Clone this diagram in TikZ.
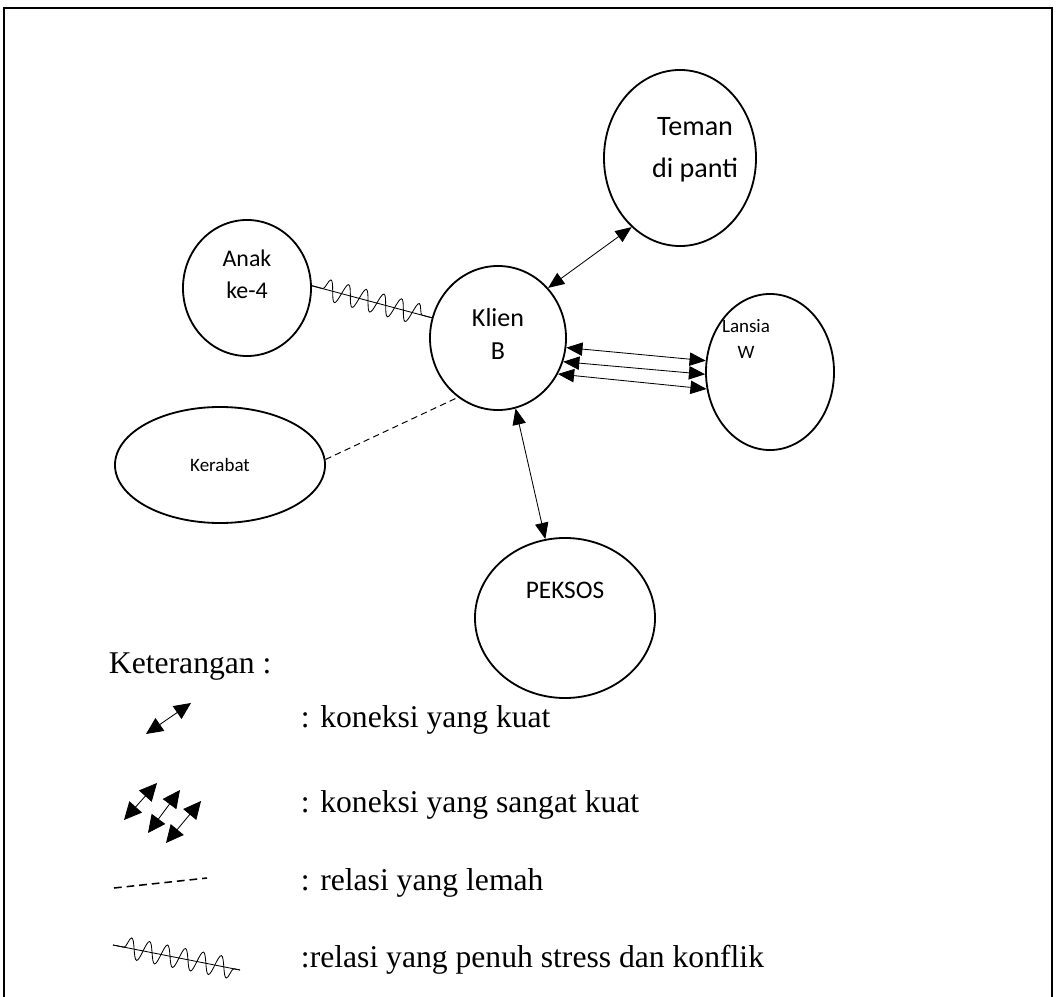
\documentclass[tikz,border=0pt]{standalone}
\usepackage{fontspec}
\setmainfont{Liberation Serif}
\newfontfamily\calibri{Carlito}
\usetikzlibrary{shapes.geometric,arrows.meta,decorations.pathmorphing}

\begin{document}
\begin{tikzpicture}[
  x=0.025cm, y=-0.025cm,
  person/.style={draw, ellipse, line width=1.3pt, inner sep=0pt},
  pname/.style 2 args={align=center, font=\calibri\fontsize{#1}{#2}\selectfont},
  strong/.style={line width=0.6pt, {Triangle[length=11.5pt,width=9.5pt]}-{Triangle[length=11.5pt,width=9.5pt]}},
  weak/.style={line width=0.7pt, dash pattern=on 4.5pt off 3pt},
  stress/.style={line width=0.6pt, postaction={draw, decorate,
    decoration={snake, amplitude=7.5pt, segment length=13pt, pre length=8pt, post length=3pt}}},
  legtext/.style={anchor=west, font=\fontsize{22.5}{27}\selectfont}
]
\useasboundingbox (0,0) rectangle (1057,997);
\draw[line width=1.6pt] (4,997) -- (4,8) -- (1052,8) -- (1052,997);

% persons
\node[person, minimum width=3.8cm, minimum height=4.4cm,
  label={[pname={20}{30}, xshift=0.375cm, yshift=0.2cm]center:{Teman\\di panti}}] (teman) at (680,158) {};
\node[person, minimum width=3.2cm, minimum height=3.4cm,
  label={[pname={17}{23}, yshift=0.35cm]center:{Anak\\ke-4}}] (anak) at (247,288) {};
\node[person, minimum width=3.4cm, minimum height=3.6cm,
  label={[pname={18.5}{24}, yshift=0.1cm]center:{Klien\\B}}] (klien) at (498,338) {};
\node[person, minimum width=3.2cm, minimum height=3.9cm,
  label={[pname={13.5}{18.5}, xshift=-0.6cm, yshift=0.82cm]center:{Lansia\\W}}] (lansia) at (770,372) {};
\node[person, minimum width=5.25cm, minimum height=2.9cm,
  label={[pname={13.5}{18}]center:Kerabat}] (kerabat) at (220,465) {};
\node[person, minimum width=4.5cm, minimum height=4cm,
  label={[pname={18}{22}, yshift=0.7cm]center:PEKSOS}] (peksos) at (565,618) {};

% relations
\draw[strong] (klien.45) -- (teman.235);
\draw[strong] (klien.-76) -- (peksos.104);
\draw[strong] (klien.-8) -- (lansia.170);
\draw[strong] (klien.-20) -- (lansia.182);
\draw[strong] (klien.-31) -- (lansia.195);
\draw[weak] (kerabat.3) -- (klien.236);
\draw[stress] (anak.2) -- (klien.163);

% keterangan
\node[legtext] (ket) at (104,667) {Keterangan :};

\coordinate (a1) at (146,734);
\coordinate (b1) at (191,703);
\draw[strong, {Triangle[length=12pt,width=11pt]}-{Triangle[length=12pt,width=11pt]}] (a1) -- (b1);
\node[legtext] (t1) at (296,720) {: koneksi yang kuat};

\coordinate (a2) at (124,820);
\coordinate (b2) at (157,783);
\coordinate (a3) at (148,833);
\coordinate (b3) at (180,790);
\coordinate (a4) at (166,843);
\coordinate (b4) at (201,801);
\foreach \i in {2,3,4}
  \draw[strong, {Triangle[length=12.5pt,width=12pt]}-{Triangle[length=12.5pt,width=12pt]}] (a\i) -- (b\i);
\node[legtext] (t2) at (296,805) {: koneksi yang sangat kuat};

\coordinate (a5) at (114,888);
\coordinate (b5) at (207,878);
\draw[weak, line width=1.1pt, dash pattern=on 5.5pt off 3.5pt] (a5) -- (b5);
\node[legtext] (t3) at (296,883) {: relasi yang lemah};

\coordinate (a6) at (113,945);
\coordinate (b6) at (240,970);
\draw[stress] (a6) -- (b6);
\node[legtext] (t4) at (296,960) {:relasi yang penuh stress dan konflik};
\end{tikzpicture}
\end{document}
